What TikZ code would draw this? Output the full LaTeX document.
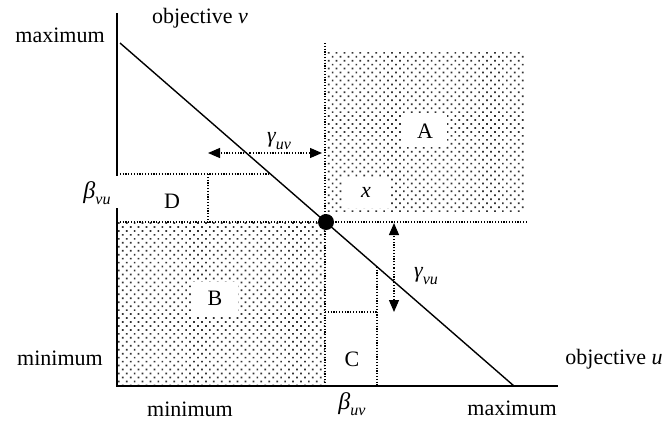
\documentclass[tikz,border=0pt]{standalone}
\usepackage{fontspec}
\setmainfont{Liberation Serif}
\usetikzlibrary{arrows.meta,patterns.meta}
\newcommand\symsub[3]{{\fontsize{#3}{#3}\selectfont\itshape #1}\raisebox{-0.3em}{\fontsize{16}{16}\selectfont\itshape #2}}
\begin{document}
\begin{tikzpicture}[x=1pt,y=-1pt,
  font=\fontsize{22}{26}\selectfont,
  axis/.style={line width=1.5pt},
  dline/.style={line width=1.2pt, dash pattern=on 1.2pt off 1.6pt},
  dotfill/.style={pattern={Dots[angle=45,distance=5.6pt,radius=1.2pt]}, pattern color=black!80},
  lbl/.style={inner sep=0pt},
  wbox/.style={fill=white, inner sep=0pt},
  tip/.style={-{Triangle[length=12pt,width=10pt]}}
]
\useasboundingbox (0,0) rectangle (667,421);
% shaded regions
\fill[dotfill] (326,52) rectangle (525,212);
\fill[dotfill] (117,222) rectangle (325,386);
% label boxes
\node[wbox, minimum width=44pt, minimum height=32pt] (A) at (425,131) {A};
\node[wbox, minimum width=46pt, minimum height=31pt] (X) at (366,192) {\textit{x}};
\node[wbox, minimum width=46pt, minimum height=33pt] (B) at (215,298) {B};
\node[lbl] (D) at (172,201) {D};
\node[lbl] (C) at (352,359) {C};
% coordinates
\coordinate (yt) at (117,13);
\coordinate (yg1) at (117,176);
\coordinate (yg2) at (117,208);
\coordinate (o) at (117,386);
\coordinate (xe) at (558,386);
\coordinate (ls) at (120,43);
\coordinate (le) at (514,386);
\coordinate (p) at (326,222);
\coordinate (h1) at (117,222);
\coordinate (h2) at (528,222);
\coordinate (v1) at (325,43);
\coordinate (v2) at (325,386);
\coordinate (d1) at (117,174);
\coordinate (d2) at (270.5,174);
\coordinate (d3) at (208,174);
\coordinate (d4) at (208,222);
\coordinate (c1) at (377,266.7);
\coordinate (c2) at (377,386);
\coordinate (c3) at (325,312);
\coordinate (c4) at (377,312);
\coordinate (gu1) at (250,153);
\coordinate (gu2) at (208,153);
\coordinate (gu3) at (322,153);
\coordinate (gv1) at (394,268);
\coordinate (gv2) at (394,223);
\coordinate (gv3) at (394,312);
% dotted lines
\draw[dline] (h1) -- (h2);
\draw[dline] (v1) -- (v2);
\draw[dline] (d1) -- (d2);
\draw[dline] (d3) -- (d4);
\draw[dline] (c1) -- (c2);
\draw[dline] (c3) -- (c4);
% arrows
\draw[dline, tip] (gu1) -- (gu2);
\draw[dline, tip] (gu1) -- (gu3);
\draw[dline, tip] (gv1) -- (gv2);
\draw[dline, tip] (gv1) -- (gv3);
% axes
\draw[axis] (yt) -- (yg1);
\draw[axis] (yg2) -- (o) -- (xe);
% diagonal
\draw[line width=1.4pt] (ls) -- (le);
\fill (p) circle (8pt);
% texts
\node[lbl] (tmaxl) at (60,35) {maximum};
\node[lbl] (tminl) at (60,358) {minimum};
\node[lbl] (tov) at (200,18) {objective \textit{v}};
\node[lbl] (tou) at (614,359) {objective \textit{u}};
\node[lbl] (tminb) at (190,409) {minimum};
\node[lbl] (tmaxb) at (512,408) {maximum};
\node[lbl] (buv) at (352,404) {\symsub{β}{uv}{24}};
\node[lbl] (bvu) at (97,193) {\symsub{β}{vu}{24}};
\node[lbl] (guv) at (279,141) {\symsub{γ}{uv}{22}};
\node[lbl] (gvu) at (426,276) {\symsub{γ}{vu}{22}};
\end{tikzpicture}
\end{document}
